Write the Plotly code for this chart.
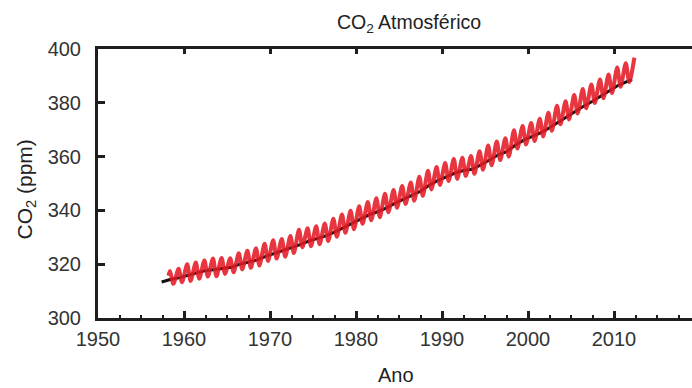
import plotly.graph_objects as go

# Mauna Loa (red): seasonal peaks (~May) and troughs (~Sep/Oct)
ml_start_year = [1958.2]
ml_start_val = [315.7]
ml_peak_years = [1958.37, 1959.37, 1960.37, 1961.37, 1962.37, 1963.37, 1964.37, 1965.37, 1966.37,
                 1967.37, 1968.37, 1969.37, 1970.37, 1971.37, 1972.37, 1973.37, 1974.37, 1975.37,
                 1976.37, 1977.37, 1978.37, 1979.37, 1980.37, 1981.37, 1982.37, 1983.37, 1984.37,
                 1985.37, 1986.37, 1987.37, 1988.37, 1989.37, 1990.37, 1991.37, 1992.37, 1993.37,
                 1994.37, 1995.37, 1996.37, 1997.37, 1998.37, 1999.37, 2000.37, 2001.37, 2002.37,
                 2003.37, 2004.37, 2005.37, 2006.37, 2007.37, 2008.37, 2009.37, 2010.37, 2011.37,
                 2012.37]
ml_peak = [317.5, 318.3, 320.0, 320.6, 321.4, 322.1, 322.3, 322.2, 324.1, 325.0, 325.9, 327.6,
           328.9, 329.4, 330.5, 332.8, 333.4, 334.1, 335.1, 336.9, 338.5, 339.9, 341.5, 343.1,
           344.5, 346.2, 347.6, 349.1, 350.4, 352.5, 354.7, 356.1, 357.6, 359.1, 359.6, 360.2,
           362.0, 364.1, 365.6, 366.8, 369.8, 371.4, 372.5, 374.1, 376.3, 378.9, 380.6, 382.9,
           385.1, 386.8, 388.7, 390.5, 393.1, 394.7, 396.8]
ml_trough_years = [1958.77, 1959.77, 1960.77, 1961.77, 1962.77, 1963.77, 1964.77, 1965.77, 1966.77,
                   1967.77, 1968.77, 1969.77, 1970.77, 1971.77, 1972.77, 1973.77, 1974.77, 1975.77,
                   1976.77, 1977.77, 1978.77, 1979.77, 1980.77, 1981.77, 1982.77, 1983.77, 1984.77,
                   1985.77, 1986.77, 1987.77, 1988.77, 1989.77, 1990.77, 1991.77, 1992.77, 1993.77,
                   1994.77, 1995.77, 1996.77, 1997.77, 1998.77, 1999.77, 2000.77, 2001.77, 2002.77,
                   2003.77, 2004.77, 2005.77, 2006.77, 2007.77, 2008.77, 2009.77, 2010.77, 2011.77]
ml_trough = [312.7, 313.3, 313.8, 314.6, 315.4, 315.5, 316.4, 317.0, 318.1, 318.7, 319.5, 321.2,
             322.1, 322.8, 324.2, 326.3, 326.7, 327.4, 328.6, 330.2, 331.7, 333.0, 335.0, 336.3,
             337.5, 339.3, 341.0, 342.4, 343.6, 345.4, 347.8, 349.5, 350.9, 351.7, 352.8, 353.6,
             355.1, 356.8, 358.7, 360.0, 363.0, 364.5, 365.8, 367.5, 369.6, 372.0, 373.8, 376.0,
             378.0, 379.9, 381.7, 383.6, 386.0, 387.7]

# South Pole (black): yearly values
sp_years = [1957.4, 1958.5, 1959.5, 1960.5, 1961.5, 1962.5, 1963.5, 1964.5, 1965.5, 1966.5, 1967.5,
            1968.5, 1969.5, 1970.5, 1971.5, 1972.5, 1973.5, 1974.5, 1975.5, 1976.5, 1977.5,
            1978.5, 1979.5, 1980.5, 1981.5, 1982.5, 1983.5, 1984.5, 1985.5, 1986.5, 1987.5,
            1988.5, 1989.5, 1990.5, 1991.5, 1992.5, 1993.5, 1994.5, 1995.5, 1996.5, 1997.5,
            1998.5, 1999.5, 2000.5, 2001.5, 2002.5, 2003.5, 2004.5, 2005.5, 2006.5, 2007.5,
            2008.5, 2009.5, 2010.5, 2011.5, 2012.1]
sp_vals = [313.4, 314.4, 315.0, 316.0, 316.8, 317.6, 318.0, 318.5, 318.9, 320.0, 320.9,
           321.6, 322.9, 324.0, 325.0, 326.0, 327.3, 328.6, 329.6, 330.5, 331.9,
           333.5, 335.0, 336.7, 338.3, 339.5, 340.8, 342.6, 344.1, 345.6, 347.1,
           349.3, 351.1, 352.5, 353.9, 354.8, 355.3, 356.9, 358.9, 360.6, 361.8,
           364.2, 366.1, 367.4, 368.9, 370.7, 372.8, 374.7, 376.8, 378.8, 380.6,
           382.5, 384.5, 386.5, 387.9, 388.6]

x_ticks = [1950, 1960, 1970, 1980, 1990, 2000, 2010]
y_ticks = [300, 320, 340, 360, 380, 400]

# merge peak/trough sequence for the red curve
ml_x = list(ml_start_year)
ml_y = list(ml_start_val)
pts = sorted(list(zip(ml_peak_years, ml_peak)) + list(zip(ml_trough_years, ml_trough)))
for a, b in pts:
    ml_x.append(a)
    ml_y.append(b)

AX = "#1e1e1e"
TXT = "#333333"
FONT = "Liberation Sans, Arial, sans-serif"

fig = go.Figure()
fig.add_trace(go.Scatter(x=sp_years, y=sp_vals, mode="lines",
                         line=dict(color="#111111", width=3), showlegend=False))
fig.add_trace(go.Scatter(x=ml_x, y=ml_y, mode="lines",
                         line=dict(color="rgba(228,26,36,0.88)", width=4, shape="spline",
                                   smoothing=0.8), showlegend=False))
# invisible trace for top axis
fig.add_trace(go.Scatter(x=[1950], y=[300], xaxis="x2", mode="markers",
                         marker=dict(opacity=0), showlegend=False, hoverinfo="skip"))

fig.update_layout(
    width=692, height=388,
    margin=dict(l=98, r=0, t=49, b=70, autoexpand=False),
    paper_bgcolor="white", plot_bgcolor="white",
    font=dict(family=FONT, color=TXT, size=20),
    title=dict(text="CO<sub>2</sub> Atmosférico", x=409 / 692, xref="container", xanchor="center",
               y=1 - 22 / 388, yref="container", yanchor="middle",
               font=dict(size=19.5, color="#222222", family=FONT)),
    xaxis=dict(range=[1950, 2019.07], tickvals=x_ticks, ticks="inside", ticklen=7, tickwidth=2.5,
               tickcolor=AX, showline=True, linewidth=3, linecolor=AX, showgrid=False,
               zeroline=False, ticklabelstandoff=1, automargin=False,
               tickfont=dict(size=20, color=TXT),
               minor=dict(dtick=2.5, tick0=1950, ticks="inside", ticklen=3, tickwidth=1.5,
                          tickcolor=AX, showgrid=False)),
    xaxis2=dict(range=[1950, 2019.07], overlaying="x", side="top", tickvals=x_ticks,
                showticklabels=False, ticks="inside", ticklen=5, tickwidth=2.5, tickcolor=AX,
                showline=True, linewidth=3, linecolor=AX, showgrid=False, zeroline=False,
                automargin=False),
    yaxis=dict(range=[300, 400], tickvals=y_ticks, ticks="inside", ticklen=7, tickwidth=2.5,
               tickcolor=AX, showline=True, linewidth=3, linecolor=AX, showgrid=False,
               zeroline=False, ticklabelstandoff=10, automargin=False,
               tickfont=dict(size=20, color=TXT)),
    annotations=[
        dict(text="CO<sub>2</sub> (ppm)", xref="paper", yref="paper", x=0, y=0.5,
             xshift=-73, yshift=-6, textangle=-90, showarrow=False,
             xanchor="center", yanchor="middle", font=dict(size=21, color="#222222")),
        dict(text="Ano", xref="paper", yref="paper", x=(396 - 98) / 594, y=0,
             yshift=-57, showarrow=False, xanchor="center", yanchor="middle",
             font=dict(size=20, color="#222222")),
    ],
)

fig.write_html("out.html", config={"displayModeBar": False},
               post_script="document.body.style.margin='0';")
